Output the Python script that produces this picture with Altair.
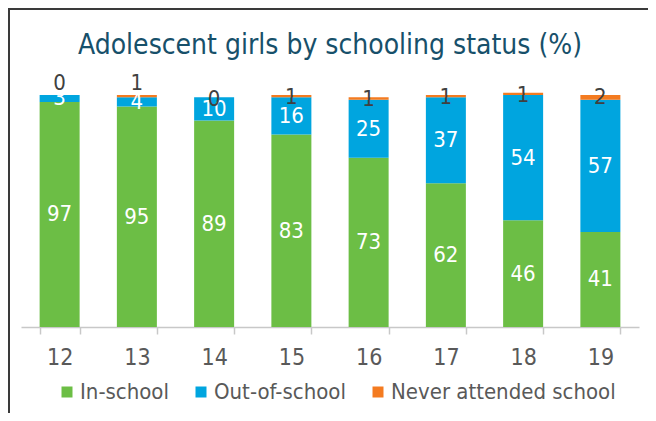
import altair as alt
import pandas as pd

ages = ["12", "13", "14", "15", "16", "17", "18", "19"]
in_school = [97, 95, 89, 83, 73, 62, 46, 41]
out_school = [3, 4, 10, 16, 25, 37, 54, 57]
never = [0, 1, 0, 1, 1, 1, 1, 2]
statuses = ["In-school", "Out-of-school", "Never attended school"]
colors = ["#6CBE45", "#00A5DF", "#F47B20"]
title_text = "Adolescent girls by schooling status (%)"

rows = []
for i, a in enumerate(ages):
    for k, vals in enumerate([in_school, out_school, never]):
        rows.append({"age": a, "status": statuses[k], "value": vals[i], "order": k,
                     "outv": out_school[i]})
df = pd.DataFrame(rows)

FONT = "DejaVu Sans Condensed, DejaVu Sans, sans-serif"

xenc = alt.X("age:N", scale=alt.Scale(paddingInner=0.48, paddingOuter=0.24),
             axis=alt.Axis(title=None, labelAngle=0, labelFontSize=23, labelColor="#595959",
                           labelFont=FONT, domainColor="#C8C8C8", tickColor="#C8C8C8",
                           tickSize=7, tickBand="extent", labelPadding=12, domainWidth=1.5,
                           tickWidth=1.5))
yscale = alt.Scale(domain=[0, 100], nice=False)

base = alt.Chart(df).transform_stack(
    stack="value", groupby=["age"], sort=[alt.SortField("order", order="ascending")],
    as_=["y0", "y1"]
).transform_calculate(mid="(datum.y0 + datum.y1) / 2")

bars = base.mark_bar(size=40).encode(
    x=xenc,
    y=alt.Y("y0:Q", scale=yscale, axis=None),
    y2="y1:Q",
    color=alt.Color("status:N", scale=alt.Scale(domain=statuses, range=colors),
                    legend=alt.Legend(title=None, orient="none", legendX=35, legendY=286,
                                      direction="horizontal", symbolType="square",
                                      symbolSize=121, symbolStrokeWidth=0,
                                      labelFontSize=22, labelColor="#595959",
                                      labelFont=FONT, columnPadding=21, labelOffset=2,
                                      labelLimit=400)),
)

inner_labels = base.transform_filter("datum.order < 2").mark_text(
    color="white", fontSize=22, font=FONT, baseline="middle"
).encode(x="age:N", y=alt.Y("mid:Q"), text="value:Q")

top_low = base.transform_filter("datum.order == 2 && datum.outv >= 5").mark_text(
    color="#404040", fontSize=22, font=FONT, baseline="middle", dy=2
).encode(x="age:N", y=alt.Y("y1:Q"), text="value:Q")

top_high = base.transform_filter("datum.order == 2 && datum.outv < 5").mark_text(
    color="#404040", fontSize=22, font=FONT, baseline="middle", dy=-12
).encode(x="age:N", y=alt.Y("y1:Q"), text="value:Q")

one = alt.Data(values=[{"t": title_text}])
title_mark = alt.Chart(one).mark_text(
    fontSize=28, font=FONT, color="#17506A", baseline="alphabetic", align="center"
).encode(x=alt.value(309), y=alt.value(-41), text="t:N")
left_border = alt.Chart(one).mark_rule(color="#3A3A3A", strokeWidth=2).encode(
    x=alt.value(-12), y=alt.value(-87), y2=alt.value(318))
top_border = alt.Chart(one).mark_rule(color="#3A3A3A", strokeWidth=2).encode(
    y=alt.value(-86), x=alt.value(-13), x2=alt.value(627))

chart = alt.layer(bars, inner_labels, top_low, top_high, title_mark, left_border,
                  top_border).properties(
    width=618, height=232,
    padding={"left": 13, "top": 87, "right": 9, "bottom": 86},
    autosize=alt.AutoSizeParams(type="none"),
).configure_view(stroke=None)

chart.save("out.html", embed_options={"renderer": "svg", "actions": False})
